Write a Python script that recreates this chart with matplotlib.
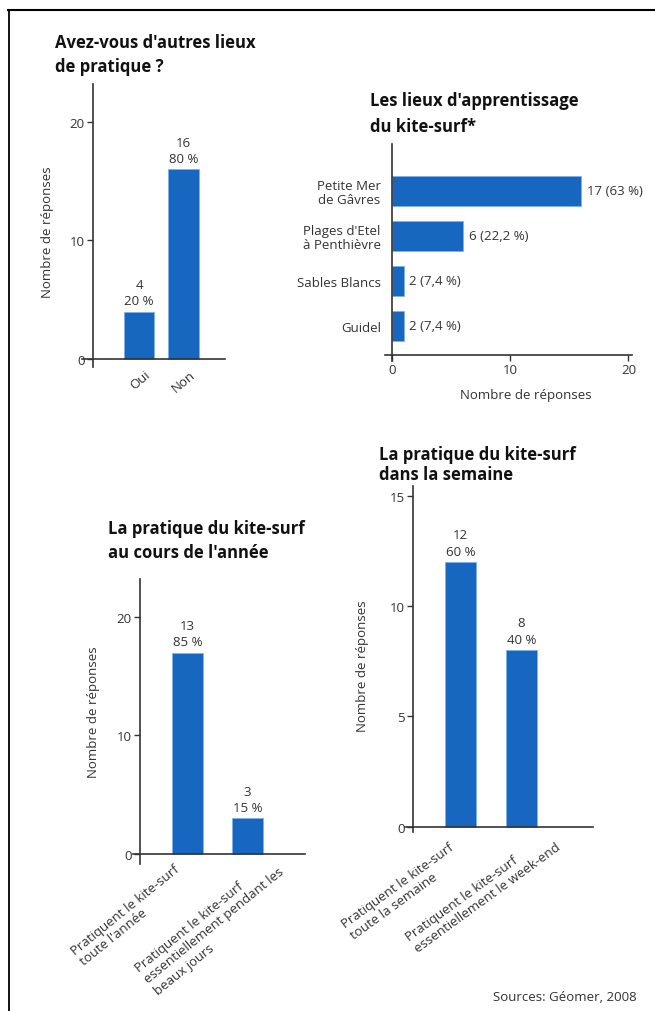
import matplotlib
matplotlib.use("Agg")
import matplotlib.pyplot as plt
import matplotlib.transforms as mtrans
from matplotlib.lines import Line2D

plt.rcParams['font.family'] = ['Open Sans', 'DejaVu Sans']

# ---- données ----
autres_cats = ['Oui', 'Non']
autres_vals = [4, 16]
autres_txt = ['4\n20 %', '16\n80 %']

appr_cats = ['Guidel', 'Sables Blancs', "Plages d'Etel\nà Penthièvre", 'Petite Mer\nde Gâvres']
appr_vals = [1, 1, 6, 16]
appr_txt = ['2 (7,4 %)', '2 (7,4 %)', '6 (22,2 %)', '17 (63 %)']

annee_cats = ["Pratiquent le kite-surf\ntoute l'année",
              "Pratiquent le kite-surf\nessentiellement pendant les\nbeaux jours"]
annee_vals = [17, 3]
annee_txt = ['13\n85 %', '3\n15 %']

semaine_cats = ["Pratiquent le kite-surf\ntoute la semaine",
                "Pratiquent le kite-surf\nessentiellement le week-end"]
semaine_vals = [12, 8]
semaine_txt = ['12\n60 %', '8\n40 %']

BLEU = '#1766bf'
BORD = '#7fb0e8'
GRIS = '#333333'
FS = 9.5
W, H = 655, 1012

fig = plt.figure(figsize=(W / 100, H / 100), dpi=100)


def rect(l, t, r, b):
    # boîte en pixels (origine en haut à gauche) -> coordonnées figure
    return [l / W, 1 - b / H, (r - l) / W, (b - t) / H]


def style_axes(ax, xspine, yspine):
    for s in ['top', 'right']:
        ax.spines[s].set_visible(False)
    ax.spines['left'].set_position(('data', xspine))
    ax.spines['bottom'].set_position(('data', yspine))
    for s in ['left', 'bottom']:
        ax.spines[s].set_color(GRIS)
        ax.spines[s].set_linewidth(1.2)
    ax.tick_params(colors=GRIS, labelsize=FS, width=1)


def titre(x, y, txt, ls):
    fig.text(x / W, 1 - y / H, txt, ha='left', va='top', fontsize=12,
             fontweight='bold', color='#111111', linespacing=ls)


def ylab(x, y, txt):
    fig.text(x / W, 1 - y / H, txt, ha='center', va='center', rotation=90,
             fontsize=FS, color=GRIS)


def decale(ax, offsets):
    for lab, (dx, dy) in zip(ax.get_xticklabels(), offsets):
        lab.set_transform(lab.get_transform() +
                          mtrans.ScaledTranslation(dx / 100, -dy / 100, fig.dpi_scale_trans))


def etiquettes(ax, x, vals, txts):
    for xi, v, t in zip(x, vals, txts):
        ax.annotate(t, (xi, v), xytext=(0, 3), textcoords='offset points',
                    ha='center', va='bottom', fontsize=FS, color=GRIS, linespacing=1.35)


# ---- 1 : Avez-vous d'autres lieux de pratique ? ----
ax1 = fig.add_axes(rect(82, 85, 225, 368))
x1 = list(range(len(autres_cats)))
ax1.bar(x1, autres_vals, width=0.68, color=BLEU, edgecolor=BORD, linewidth=0.6)
ax1.set_xlim(-1.28, 1.93)
ax1.set_ylim(-0.68, 23.2)
style_axes(ax1, -1.03, 0)
ax1.set_yticks([0, 10, 20])
ax1.tick_params(axis='y', direction='out', length=4, pad=2)
ax1.set_xticks(x1, autres_cats, rotation=40, ha='right', va='top', rotation_mode='anchor')
ax1.tick_params(axis='x', length=0, pad=6)
decale(ax1, [(5, 0), (6, 0)])
etiquettes(ax1, x1, autres_vals, autres_txt)
titre(55, 34, "Avez-vous d'autres lieux\nde pratique ?", 1.4)
ylab(48, 232, 'Nombre de réponses')

# ---- 2 : Les lieux d'apprentissage du kite-surf* ----
ax2 = fig.add_axes(rect(385, 145, 632, 362))
y2 = list(range(len(appr_cats)))
ax2.barh(y2, appr_vals, height=0.67, color=BLEU, edgecolor=BORD, linewidth=0.6)
ax2.set_xlim(-0.6, 20.3)
ax2.set_ylim(-0.78, 4.04)
style_axes(ax2, 0, -0.64)
ax2.set_xticks([0, 10, 20])
ax2.tick_params(axis='x', direction='out', length=4, pad=2)
ax2.set_yticks(y2, appr_cats, ha='right', multialignment='center', linespacing=1.1)
ax2.tick_params(axis='y', length=0, pad=8)
for yi, v, t in zip(y2, appr_vals, appr_txt):
    ax2.annotate(t, (v, yi), xytext=(4, 0), textcoords='offset points',
                 ha='left', va='center', fontsize=FS, color=GRIS)
ax2.set_xlabel('Nombre de réponses', fontsize=FS, color=GRIS)
ax2.xaxis.set_label_coords(0.57, -0.125)
titre(370, 92, "Les lieux d'apprentissage\ndu kite-surf*", 1.55)

# ---- 3 : La pratique du kite-surf au cours de l'année ----
ax3 = fig.add_axes(rect(133, 580, 305, 865))
x3 = list(range(len(annee_cats)))
ax3.bar(x3, annee_vals, width=0.52, color=BLEU, edgecolor=BORD, linewidth=0.6)
ax3.set_xlim(-0.91, 1.96)
ax3.set_ylim(-0.84, 23.2)
style_axes(ax3, -0.79, 0)
ax3.set_yticks([0, 10, 20])
ax3.tick_params(axis='y', direction='out', length=4, pad=2)
ax3.set_xticks(x3, annee_cats, rotation=39, ha='right', va='top',
               rotation_mode='anchor', multialignment='left', linespacing=1.15)
ax3.tick_params(axis='x', length=0, pad=4)
decale(ax3, [(-14, 2), (22, -6)])
etiquettes(ax3, x3, annee_vals, annee_txt)
titre(108, 520, "La pratique du kite-surf\nau cours de l'année", 1.4)
ylab(93, 712, 'Nombre de réponses')

# ---- 4 : La pratique du kite-surf dans la semaine ----
ax4 = fig.add_axes(rect(405, 487, 593, 833))
x4 = list(range(len(semaine_cats)))
ax4.bar(x4, semaine_vals, width=0.51, color=BLEU, edgecolor=BORD, linewidth=0.6)
ax4.set_xlim(-0.91, 2.17)
ax4.set_ylim(-0.23, 15.43)
style_axes(ax4, -0.78, 0)
ax4.set_yticks([0, 5, 10, 15])
ax4.tick_params(axis='y', direction='out', length=4, pad=2)
ax4.set_xticks(x4, semaine_cats, rotation=36, ha='right', va='top',
               rotation_mode='anchor', multialignment='left', linespacing=1.15)
ax4.tick_params(axis='x', length=0, pad=4)
decale(ax4, [(-12, 8), (25, -4)])
etiquettes(ax4, x4, semaine_vals, semaine_txt)
titre(379, 446, "La pratique du kite-surf\ndans la semaine", 1.15)
ylab(362, 666, 'Nombre de réponses')

# source + cadre
fig.text(637 / W, 1 - 998 / H, 'Sources: Géomer, 2008', ha='right', va='center',
         fontsize=FS, color=GRIS)
fig.add_artist(Line2D([8 / W, 1], [1 - 11 / H, 1 - 11 / H], transform=fig.transFigure,
                      color='black', lw=1.5))
fig.add_artist(Line2D([9 / W, 9 / W], [1 - 11 / H, 0], transform=fig.transFigure,
                      color='black', lw=1.3))

fig.savefig('out.png', dpi=100)
